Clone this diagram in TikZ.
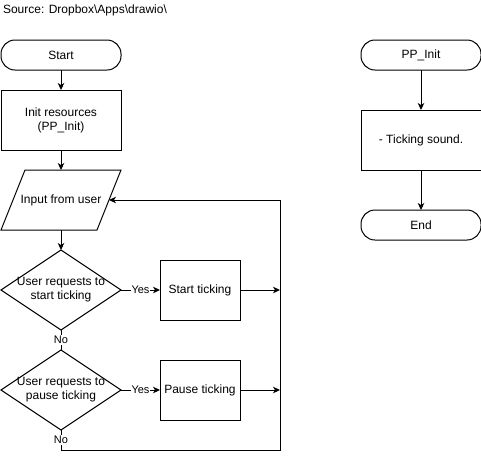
\documentclass[tikz,border=0pt]{standalone}
\usepackage{fontspec}
\setmainfont{Liberation Sans}
\usetikzlibrary{arrows.meta,calc}
\begin{document}
\begin{tikzpicture}[x=1pt,y=-1pt,
  every node/.style={font=\fontsize{12}{14}\selectfont, inner sep=0pt, outer sep=0pt},
  flow/.style={line width=1pt, -{Stealth[length=7pt,width=6.5pt,inset=2pt]}},
  plainline/.style={line width=1pt},
  terminal/.style={draw, line width=1pt, rounded corners=14pt, minimum width=120pt, minimum height=30pt},
  procbox/.style={draw, line width=1pt, minimum width=120pt, minimum height=60pt, align=center},
  smallbox/.style={draw, line width=1pt, minimum width=80pt, minimum height=60pt, align=center},
  decbody/.style={minimum width=120pt, minimum height=80pt, align=center},
  iobody/.style={minimum width=96pt, minimum height=60pt, align=center},
  lbl/.style={font=\fontsize{11}{13}\selectfont, fill=white, inner sep=1pt}
]
\fill[white] (0,0) rectangle (481,459);
\useasboundingbox (0,0) rectangle (481,459);

% caption
\node[anchor=west] (src) at (3,10) {Source: Dropbox\textbackslash Apps\textbackslash drawio\textbackslash};

% main flow
\node[terminal] (start) at (61,55) {Start};
\node[procbox] (init) at (61,120) {Init resources\\(PP\_Init)};
\node[iobody] (inp) at (61,200) {Input from user};
\draw[plainline] ($(inp.north west)+(12,0)$) -- ($(inp.north east)+(12,0)$)
  -- ($(inp.south east)+(-12,0)$) -- ($(inp.south west)+(-12,0)$) -- cycle;

\node[decbody] (d1) at (61,290) {User requests to\\start ticking};
\draw[plainline] (d1.north) -- (d1.east) -- (d1.south) -- (d1.west) -- cycle;
\node[decbody] (d2) at (61,390) {User requests to\\pause ticking};
\draw[plainline] (d2.north) -- (d2.east) -- (d2.south) -- (d2.west) -- cycle;

\node[smallbox] (startt) at (200,290) {Start ticking};
\node[smallbox] (pauset) at (200,390) {Pause ticking};

% junction points on the return line
\coordinate (j1) at (280,290);
\coordinate (j2) at (280,390);
\coordinate (lb) at (61,450);
\coordinate (rb) at (280,450);
\coordinate (rt) at (280,200);

\draw[flow] (start) -- (init);
\draw[flow] (init) -- (inp.north);
\draw[flow] (inp.south) -- (d1.north);
\draw[flow] (d1.east) -- node[lbl] (y1) {Yes} (startt.west);
\draw[flow] (d2.east) -- node[lbl] (y2) {Yes} (pauset.west);
\draw[flow] (startt.east) -- (j1);
\draw[flow] (pauset.east) -- (j2);
\draw[plainline] (d1.south) -- node[lbl] (n1) {No} (d2.north);
\draw[flow] (d2.south) -- (lb) -- (rb) -- (rt) -- (inp.east);
\node[lbl] (n2) at (61,440) {No};

% sound routine
\node[terminal] (pp) at (421,55) {PP\_Init};
\node[procbox] (tick) at (421,140) {- Ticking sound.};
\node[terminal] (end) at (421,225) {End};
\draw[flow] (pp) -- (tick);
\draw[flow] (tick) -- (end);
\end{tikzpicture}
\end{document}
